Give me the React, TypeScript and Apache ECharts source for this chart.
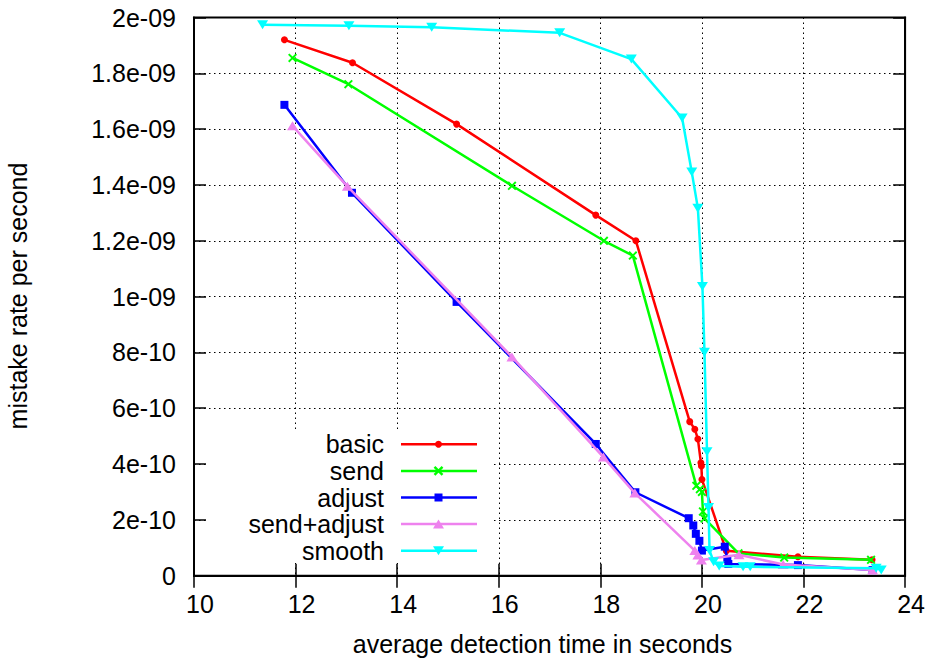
import React, { useEffect, useRef } from "react";
import * as echarts from "echarts";

const seriesNames = ["basic", "send", "adjust", "send+adjust", "smooth"];
const seriesColors = ["#ff0000", "#00ff00", "#0000ff", "#ee82ee", "#00ffff"];

const yTickLabels = [
  "0", "2e-10", "4e-10", "6e-10", "8e-10", "1e-09",
  "1.2e-09", "1.4e-09", "1.6e-09", "1.8e-09", "2e-09",
];

const basicData: number[][] = [
  [11.78, 1.92e-9], [13.12, 1.838e-9], [15.17, 1.618e-9], [17.91, 1.292e-9],
  [18.7, 1.2e-9], [19.76, 5.52e-10], [19.86, 5.25e-10], [19.92, 4.9e-10],
  [19.98, 4.05e-10], [19.99, 3.93e-10], [20.0, 3.45e-10], [20.48, 0.89e-10],
  [21.89, 0.68e-10], [23.35, 0.57e-10],
];

const sendData: number[][] = [
  [11.94, 1.855e-9], [13.04, 1.761e-9], [16.26, 1.397e-9], [18.07, 1.2e-9],
  [18.64, 1.147e-9], [19.89, 3.22e-10], [19.96, 3.1e-10], [20.0, 3.0e-10],
  [20.02, 2.3e-10], [20.05, 2.05e-10], [20.72, 0.8e-10], [21.62, 0.65e-10],
  [23.33, 0.57e-10],
];

const adjustData: number[][] = [
  [11.78, 1.687e-9], [13.11, 1.372e-9], [15.17, 0.981e-9], [17.91, 4.72e-10],
  [18.69, 2.99e-10], [19.74, 2.06e-10], [19.83, 1.8e-10], [19.88, 1.5e-10],
  [19.95, 1.25e-10], [20.0, 0.9e-10], [20.45, 1.04e-10], [20.5, 0.6e-10],
  [20.52, 0.42e-10], [21.89, 0.38e-10], [23.36, 0.2e-10],
];

const sendAdjustData: number[][] = [
  [11.94, 1.612e-9], [13.02, 1.395e-9], [16.26, 0.784e-9], [18.06, 4.25e-10],
  [18.68, 2.96e-10], [19.86, 0.9e-10], [19.92, 0.74e-10], [19.99, 0.56e-10],
  [20.73, 0.75e-10], [21.6, 0.4e-10], [23.36, 0.2e-10],
];

const smoothData: number[][] = [
  [11.35, 1.974e-9], [13.05, 1.97e-9], [14.68, 1.965e-9], [17.2, 1.945e-9],
  [18.61, 1.851e-9], [19.61, 1.64e-9], [19.8, 1.446e-9], [19.92, 1.317e-9],
  [20.01, 1.036e-9], [20.05, 0.801e-9], [20.1, 4.44e-10], [20.13, 2.44e-10],
  [20.15, 0.9e-10], [20.23, 0.5e-10], [20.34, 0.35e-10], [20.81, 0.32e-10],
  [20.95, 0.32e-10], [23.43, 0.27e-10], [23.53, 0.2e-10],
];

const allData = [basicData, sendData, adjustData, sendAdjustData, smoothData];

const X_PATH =
  "path://M0,1.5L1.5,0L5,3.5L8.5,0L10,1.5L6.5,5L10,8.5L8.5,10L5,6.5L1.5,10L0,8.5L3.5,5Z";

const symbols: any[] = ["circle", X_PATH, "rect", "triangle", "triangle"];
const symbolSizes: any[] = [7, 9, 8, [11, 9], [11, 9]];
const symbolRotates = [0, 0, 0, 0, 180];

const FONT = "'Liberation Sans', Arial, Helvetica, sans-serif";
const FS = 25;

export default function App() {
  const ref = useRef<HTMLDivElement>(null);
  useEffect(() => {
    if (!ref.current) return;
    const chart = echarts.init(ref.current, null, { renderer: "svg" });

    const gridLeft = 194;
    const gridRight = 22;
    const gridTop = 17.5;
    const gridBottom = 84.3;

    const tickStyle = { show: true, inside: true, length: 12, lineStyle: { color: "#000", width: 1.5 } };
    const axisLine = { show: true, lineStyle: { color: "#000", width: 2 } };
    const splitLine = { show: true, lineStyle: { color: "#000", width: 1, type: [1.5, 3.5] } };

    const legendX = 384;
    const legendY0 = 444.3;
    const legendStep = 26.6;
    const lineX1 = 401;
    const lineX2 = 477;
    const markX = 438.5;

    const legendGraphics: any[] = [
      {
        type: "rect",
        z: 1,
        shape: { x: 207, y: 431, width: 285, height: 132 },
        style: { fill: "#fff" },
      },
    ];
    seriesNames.forEach((name, i) => {
      const y = legendY0 + i * legendStep;
      const c = seriesColors[i];
      legendGraphics.push({
        type: "text",
        z: 5,
        x: legendX,
        y,
        style: { text: name, fill: "#000", font: `${FS}px ${FONT}`, align: "right", verticalAlign: "middle" },
      });
      legendGraphics.push({
        type: "line",
        z: 5,
        shape: { x1: lineX1, y1: y, x2: lineX2, y2: y },
        style: { stroke: c, lineWidth: 2.5 },
      });
      if (i === 0) {
        legendGraphics.push({ type: "circle", z: 6, shape: { cx: markX, cy: y, r: 3.5 }, style: { fill: c } });
      } else if (i === 1) {
        legendGraphics.push({ type: "line", z: 6, shape: { x1: markX - 4, y1: y - 4, x2: markX + 4, y2: y + 4 }, style: { stroke: c, lineWidth: 2.4 } });
        legendGraphics.push({ type: "line", z: 6, shape: { x1: markX - 4, y1: y + 4, x2: markX + 4, y2: y - 4 }, style: { stroke: c, lineWidth: 2.4 } });
      } else if (i === 2) {
        legendGraphics.push({ type: "rect", z: 6, shape: { x: markX - 4, y: y - 4, width: 8, height: 8 }, style: { fill: c } });
      } else if (i === 3) {
        legendGraphics.push({
          type: "polygon",
          z: 6,
          shape: { points: [[markX - 5.5, y + 4.5], [markX + 5.5, y + 4.5], [markX, y - 4.5]] },
          style: { fill: c },
        });
      } else {
        legendGraphics.push({
          type: "polygon",
          z: 6,
          shape: { points: [[markX - 5.5, y - 4.5], [markX + 5.5, y - 4.5], [markX, y + 4.5]] },
          style: { fill: c },
        });
      }
    });

    legendGraphics.push({
      type: "text",
      z: 5,
      x: 542.5,
      y: 644,
      style: {
        text: "average detection time in seconds",
        fill: "#000",
        font: `${FS}px ${FONT}`,
        align: "center",
        verticalAlign: "middle",
      },
    });
    legendGraphics.push({
      type: "text",
      z: 5,
      x: 18,
      y: 296,
      rotation: Math.PI / 2,
      style: {
        text: "mistake rate per second",
        fill: "#000",
        font: `${FS}px ${FONT}`,
        align: "center",
        verticalAlign: "middle",
      },
    });

    chart.setOption({
      animation: false,
      backgroundColor: "#fff",
      grid: {
        left: gridLeft,
        right: gridRight,
        top: gridTop,
        bottom: gridBottom,
        show: true,
        borderColor: "#000",
        borderWidth: 2,
        backgroundColor: "transparent",
      },
      xAxis: [
        {
          type: "value",
          position: "bottom",
          min: 10,
          max: 24,
          interval: 2,
          axisLine,
          axisTick: tickStyle,
          splitLine,
          axisLabel: {
            color: "#000",
            fontSize: FS,
            fontFamily: FONT,
            margin: 16,
            padding: [0, 0, 0, 12],
          },
        },
        {
          type: "value",
          position: "top",
          min: 10,
          max: 24,
          interval: 2,
          axisLine,
          axisTick: tickStyle,
          splitLine: { show: false },
          axisLabel: { show: false },
        },
      ],
      yAxis: [
        {
          type: "value",
          position: "left",
          min: 0,
          max: 2e-9,
          interval: 2e-10,
          axisLine,
          axisTick: tickStyle,
          splitLine,
          axisLabel: {
            color: "#000",
            fontSize: FS,
            fontFamily: FONT,
            margin: 18,
            formatter: (v: number) => yTickLabels[Math.round(v / 2e-10)] ?? "",
          },
        },
        {
          type: "value",
          position: "right",
          min: 0,
          max: 2e-9,
          interval: 2e-10,
          axisLine,
          axisTick: tickStyle,
          splitLine: { show: false },
          axisLabel: { show: false },
        },
      ],
      graphic: legendGraphics,
      series: allData.map((d, i) => ({
        name: seriesNames[i],
        type: "line",
        xAxisIndex: 0,
        yAxisIndex: 0,
        data: d,
        symbol: symbols[i],
        symbolSize: symbolSizes[i],
        symbolRotate: symbolRotates[i],
        showSymbol: true,
        color: seriesColors[i],
        lineStyle: { color: seriesColors[i], width: 2.5 },
        itemStyle: { color: seriesColors[i], borderWidth: 0 },
        z: 2 + i * 0.01,
      })),
    });
    return () => chart.dispose();
  }, []);

  return (
    <div
      ref={ref}
      style={{ position: "absolute", left: 0, top: 0, width: 928, height: 660, background: "#fff" }}
    />
  );
}
